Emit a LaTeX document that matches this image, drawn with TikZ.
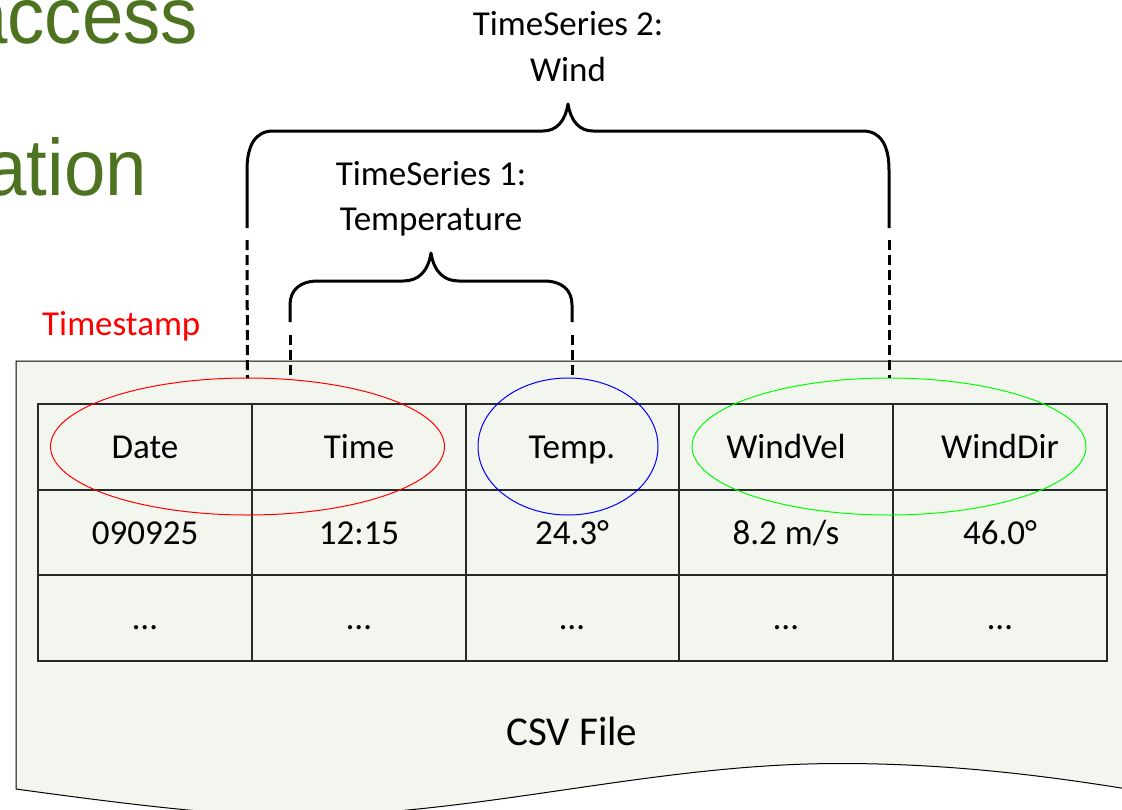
\documentclass[tikz,border=0pt]{standalone}
\usepackage{fontspec}
\setmainfont{Carlito}
\newfontfamily\headfont{Liberation Sans}
\usetikzlibrary{shapes.geometric}
\definecolor{headgreen}{RGB}{77,115,33}
\definecolor{docfill}{RGB}{243,245,239}
\definecolor{gridline}{RGB}{40,40,40}
\begin{document}
\begin{tikzpicture}[x=1pt,y=-1pt,
  cell/.style={anchor=base, inner sep=0pt, font=\fontsize{35}{42}\selectfont},
  lbl/.style={anchor=base, inner sep=0pt, font=\fontsize{35}{42}\selectfont},
  head/.style={anchor=base east, inner sep=0pt, text=headgreen,
               font=\headfont\fontsize{80}{90}\selectfont},
  brace/.style={line width=3pt, line join=round},
  leader/.style={line width=3pt, dash pattern=on 10pt off 5pt},
  gridrule/.style={line width=1.2pt, draw=gridline},
  ring/.style={ellipse, inner sep=0pt, outer sep=0pt, line width=1pt}]
\useasboundingbox (0,0) rectangle (1122,809);
\clip (0,0) rectangle (1122,809);

% slide heading fragments behind the figure
\node[head] (hd1) at (198,43) {\scalebox{0.93}[1]{access}};
\node[head] (hd2) at (147,195) {\scalebox{0.93}[1]{ation}};

% the file sheet with its wavy lower edge
\draw[fill=docfill, line width=1pt]
  (16,361) -- (16,789)
  .. controls (110,802) and (220,816) .. (290,816)
  .. controls (480,816) and (650,763.5) .. (840,763.5)
  .. controls (960,763.5) and (1060,778) .. (1140,791)
  -- (1140,361) -- cycle;

% table grid
\draw[gridrule] (38,404) rectangle (1107,661);
\foreach \yy in {490,575} \draw[gridrule] (38,\yy) -- (1107,\yy);
\foreach \xx in {252,466,679,893} \draw[gridrule] (\xx,404) -- (\xx,661);

% header row
\node[cell] (hDate) at (145,458) {Date};
\node[cell] (hTime) at (359,458) {Time};
\node[cell] (hTemp) at (572,458) {Temp.};
\node[cell] (hVel)  at (786,458) {WindVel};
\node[cell] (hDir)  at (1000,458) {WindDir};
% data row
\node[cell] (dDate) at (145,544) {090925};
\node[cell] (dTime) at (359,544) {12:15};
\node[cell] (dTemp) at (572,544) {24.3°};
\node[cell] (dVel)  at (786,544) {8.2 m/s};
\node[cell] (dDir)  at (1000,544) {46.0°};
% continuation row
\node[cell] (eDate) at (145,629) {…};
\node[cell] (eTime) at (359,629) {…};
\node[cell] (eTemp) at (572,629) {…};
\node[cell] (eVel)  at (786,629) {…};
\node[cell] (eDir)  at (1000,629) {…};

\node[anchor=base, inner sep=0pt, font=\fontsize{41}{48}\selectfont] (csv) at (572,745) {CSV File};

% column groups
\node[ring, draw=red, minimum width=394pt, minimum height=137pt] (stamp) at (247.5,446.5) {};
\node[ring, draw=blue, minimum width=180pt, minimum height=137pt] (temp) at (568,446.5) {};
\node[ring, draw=green, minimum width=394pt, minimum height=137pt] (wind) at (889,446.5) {};

\node[anchor=base west, inner sep=0pt, text=red, font=\fontsize{35}{42}\selectfont] (tslabel) at (42,335) {Timestamp};

% brace for the wind series
\coordinate (wl) at (247,228);
\coordinate (wr) at (889,228);
\draw[brace] (wl) -- (247,170)
  .. controls (247,146) and (255,131) .. (273,131) -- (543,131)
  .. controls (556,131) and (565,122) .. (568,104)
  .. controls (571,122) and (580,131) .. (593,131) -- (863,131)
  .. controls (881,131) and (889,146) .. (889,170) -- (wr);
\coordinate (wld) at (247,240);
\coordinate (wrd) at (889,240);
\draw[leader] (wld) -- (stamp.north);
\draw[leader] (wrd) -- (wind.north);

% brace for the temperature series
\coordinate (tl) at (290,322);
\coordinate (tr) at (572,322);
\draw[brace] (tl) -- (290,305)
  .. controls (290,290) and (300,281) .. (318,281) -- (403,281)
  .. controls (418,281) and (428,272) .. (431,253)
  .. controls (434,272) and (444,281) .. (459,281) -- (544,281)
  .. controls (562,281) and (572,290) .. (572,305) -- (tr);
\coordinate (tld) at (290,335);
\coordinate (trd) at (572,335);
\coordinate (tlb) at (290,379.6);
\draw[leader] (tld) -- (tlb);
\draw[leader] (trd) -- (572,378.2);

% series labels
\node[lbl] (ts2a) at (568,35) {TimeSeries 2:};
\node[lbl] (ts2b) at (568,81) {Wind};
\node[lbl] (ts1a) at (431,185) {TimeSeries 1:};
\node[lbl] (ts1b) at (431,230) {Temperature};
\end{tikzpicture}
\end{document}
